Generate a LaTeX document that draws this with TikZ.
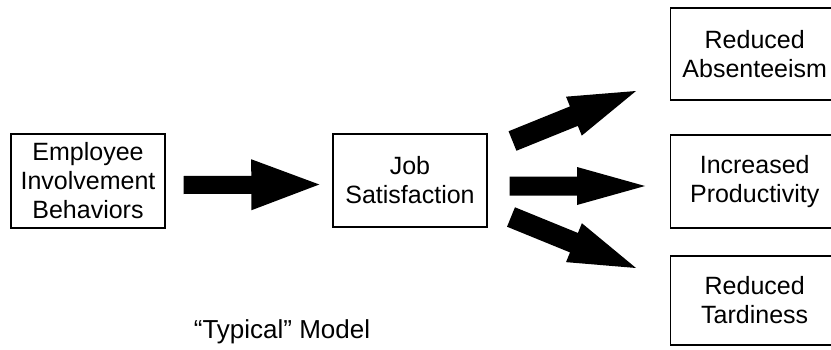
\documentclass[tikz,border=0pt]{standalone}
\usepackage{fontspec}
\setmainfont{Liberation Sans}
\usetikzlibrary{calc}

% solid block arrow from #1 to #2: shaft half width #3, head half width #4, head length #5
\newcommand\fatarrow[5]{%
  \path[fill=black] let \p1=(#1), \p2=(#2),
      \n1={atan2(\y2-\y1,\x2-\x1)}, \n2={veclen(\x2-\x1,\y2-\y1)} in
    [shift={(\p1)}, rotate=\n1]
    (0,-#3) -- (\n2-#5,-#3) -- (\n2-#5,-#4) -- (\n2,0)
    -- (\n2-#5,#4) -- (\n2-#5,#3) -- (0,#3) -- cycle;}

\begin{document}
\begin{tikzpicture}[x=1pt, y=1pt,
  box/.style={draw=black, line width=1.4pt, fill=white, align=center,
    font=\fontsize{25}{29}\selectfont, inner sep=0pt},
  midbox/.style={box, minimum width=154pt},
  sidebox/.style={box, minimum width=168pt, anchor=west},
  caption/.style={font=\fontsize{26}{30}\selectfont, anchor=base}]
  \useasboundingbox (0,0) rectangle (831,349);
  \clip (0,0) rectangle (831,349);

  % boxes
  \node[midbox, minimum height=94pt] (emp) at (88,168) {Employee\\Involvement\\Behaviors};
  \node[midbox, minimum height=93pt] (job) at (410,168.5) {Job\\Satisfaction};
  \node[sidebox, minimum height=92pt] (abs) at (670,295) {Reduced\\Absenteeism};
  \node[sidebox, minimum height=93pt] (prod) at (670,167.5) {Increased\\Productivity};
  \node[sidebox, minimum height=89pt] (tard) at (670,48.5) {Reduced\\Tardiness};

  % arrow end points
  \coordinate (a1s) at ($(emp.east)+(18,-4)$);
  \coordinate (a1e) at ($(job.west)+(-13,-4)$);
  \coordinate (a2s) at (512.5,208);
  \coordinate (a2e) at (636,258);
  \coordinate (a3s) at ($(job.east)+(22,-5.5)$);
  \coordinate (a3e) at ($(prod.west)+(-25,-4.5)$);
  \coordinate (a4s) at (511,132);
  \coordinate (a4e) at (636,81);

  \fatarrow{a1s}{a1e}{9}{25.5}{68}
  \fatarrow{a2s}{a2e}{10.5}{21}{67}
  \fatarrow{a3s}{a3e}{9.5}{19}{68}
  \fatarrow{a4s}{a4e}{10.5}{21}{67}

  \node[caption] (cap) at (282,11) {“Typical” Model};
\end{tikzpicture}
\end{document}
